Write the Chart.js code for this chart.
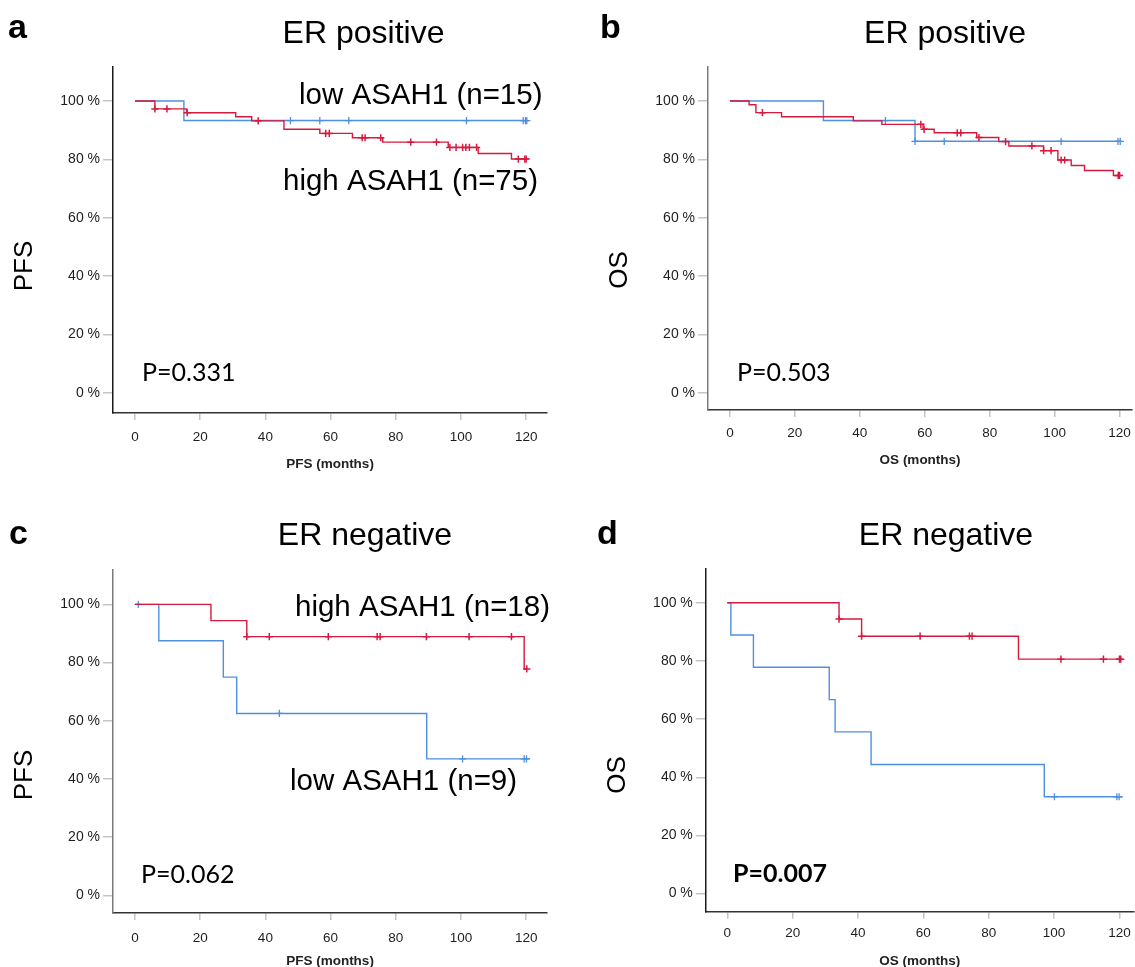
<!DOCTYPE html>
<html><head><meta charset="utf-8">
<script src="https://cdn.jsdelivr.net/npm/chart.js@4.4.1/dist/chart.umd.min.js"></script>
<style>
html,body{margin:0;padding:0;background:#fff;overflow:hidden;width:1135px;height:967px;position:relative;}
canvas{position:absolute;}
</style></head><body>
<canvas id="pa" width="567" height="483" style="left:0px;top:0px"></canvas>
<canvas id="pb" width="572" height="483" style="left:567px;top:0px"></canvas>
<canvas id="pc" width="567" height="495" style="left:0px;top:483px"></canvas>
<canvas id="pd" width="572" height="495" style="left:567px;top:483px"></canvas>
<script>
// ---------- data ----------
const xTicks = [0, 20, 40, 60, 80, 100, 120];
const yTicks = [0, 20, 40, 60, 80, 100];

// a: PFS, ER positive
const aHighTimes = [0, 6.1, 15.8, 30.9, 35.8, 45.7, 56.7, 66.7, 76.0, 96.1, 105.3, 115.5, 120.0];
const aHighSurv  = [100, 97.3, 96.0, 94.6, 93.2, 90.3, 88.9, 87.4, 85.9, 84.1, 82.0, 80.1, 80.1];
const aHighCens  = [6.1, 9.8, 16.0, 37.8, 58.5, 59.6, 69.7, 70.6, 75.4, 84.6, 92.5, 96.6, 98.5, 100.5, 101.5, 102.6, 104.8, 117.6, 119.6, 120.0];
const aLowTimes  = [0, 15.0, 120.5];
const aLowSurv   = [100, 93.3, 93.3];
const aLowCens   = [47.7, 56.7, 65.6, 101.7, 119.1, 119.8, 120.2];

// b: OS, ER positive
const bHighTimes = [0, 5.9, 8.0, 15.9, 38.0, 46.8, 59.5, 62.9, 76.0, 82.8, 85.9, 96.6, 101.0, 105.1, 109.2, 118.1, 120.0];
const bHighSurv  = [100, 98.7, 96.0, 94.6, 93.2, 92.0, 90.3, 89.1, 87.5, 86.1, 84.6, 83.0, 79.8, 77.9, 76.2, 74.5, 74.5];
const bHighCens  = [10.0, 58.8, 59.8, 70.0, 71.1, 76.7, 84.9, 93.0, 96.6, 98.9, 102.0, 103.1, 119.6, 120.0];
const bLowTimes  = [0, 28.8, 57.0, 120.5];
const bLowSurv   = [100, 93.3, 86.2, 86.2];
const bLowCens   = [47.9, 57.0, 66.0, 102.0, 119.5, 120.2];

// c: PFS, ER negative
const cHighTimes = [0, 23.3, 34.3, 119.4, 120.2];
const cHighSurv  = [100, 94.4, 88.9, 77.8, 77.8];
const cHighCens  = [34.3, 41.2, 59.3, 74.3, 75.2, 89.4, 102.5, 115.5, 120.2];
const cLowTimes  = [0, 7.3, 27.1, 31.2, 89.5, 121.0];
const cLowSurv   = [100, 87.5, 75.0, 62.5, 46.9, 46.9];
const cLowCens   = [1.0, 44.3, 100.5, 119.4, 120.1];

// d: OS, ER negative
const dHighTimes = [0, 34.2, 41.1, 89.1, 120.4];
const dHighSurv  = [100, 94.4, 88.5, 80.6, 80.6];
const dHighCens  = [34.2, 41.1, 59.0, 74.1, 74.9, 102.1, 115.1, 120.0, 120.4];
const dLowTimes  = [0, 1.1, 8.0, 31.2, 33.0, 44.0, 97.0, 120.7];
const dLowSurv   = [100, 88.9, 77.8, 66.7, 55.6, 44.4, 33.3, 33.3];
const dLowCens   = [100.1, 119.2, 119.9];

// text
const panelLetters = ['a', 'b', 'c', 'd'];
const panelTitles = ['ER positive', 'ER positive', 'ER negative', 'ER negative'];
const yTitles = ['PFS', 'OS', 'PFS', 'OS'];
const xTitles = ['PFS (months)', 'OS (months)', 'PFS (months)', 'OS (months)'];
const pValues = ['P=0.331', 'P=0.503', 'P=0.062', 'P=0.007'];
const highLabels = ['high ASAH1 (n=75)', 'high ASAH1', 'high ASAH1 (n=18)', 'high ASAH1'];
const lowLabels = ['low ASAH1 (n=15)', 'low ASAH1', 'low ASAH1 (n=9)', 'low ASAH1'];

// ---------- helpers ----------
function curve(times, surv) { return times.map((t, i) => ({ x: t, y: surv[i] })); }
function survAt(times, surv, t) {
  let v = surv[0];
  for (let i = 0; i < times.length; i++) if (times[i] <= t + 1e-9) v = surv[i];
  return v;
}
function censors(times, surv, cens) { return cens.map(t => ({ x: t, y: survAt(times, surv, t) })); }

const RED = '#d6193f', BLUE = '#4f8fe0';
const SANS = "'Liberation Sans', Arial, Helvetica, sans-serif";
const PFONT = "Lato, 'Open Sans', sans-serif";

const textPlugin = {
  id: 'panelText',
  afterDraw(chart, args, opts) {
    const ctx = chart.ctx;
    (opts.items || []).forEach(it => {
      ctx.save();
      ctx.font = it.font;
      ctx.fillStyle = it.color || '#000';
      ctx.textAlign = it.align || 'left';
      ctx.textBaseline = it.baseline || 'alphabetic';
      ctx.translate(it.x, it.y);
      if (it.rot) ctx.rotate(it.rot);
      ctx.fillText(it.text, 0, 0);
      ctx.restore();
    });
  }
};

// ---------- layout (page coordinates) ----------
const layout = [
  { id: 'pa', ox: 0, oy: 0, w: 567, h: 483, yW: 113, pad: { left: 0, top: 67, right: 20, bottom: 11 }, xH: 59, xPad: 9,
    xMin: -6.75, xMax: 126.4, yMin: -6.96, yMax: 111.66, yBorder: '#1a1a1a',
    letter: [8, 38], title: [363.5, 43], high: [283, 190], low: [299, 104], p: [142, 381], pBold: false, yT: [25, 266] },
  { id: 'pb', ox: 567, oy: 0, w: 572, h: 483, yW: 141, pad: { left: 0, top: 67, right: 5, bottom: 15 }, xH: 58, xPad: 8,
    xMin: -6.75, xMax: 123.9, yMin: -5.82, yMax: 111.64, yBorder: '#7a7a7a',
    letter: [600, 38], title: [945, 43], high: null, low: null, p: [737, 381], pBold: false, yT: [620, 270] },
  { id: 'pc', ox: 0, oy: 483, w: 567, h: 495, yW: 113, pad: { left: 0, top: 87, right: 20, bottom: 9 }, xH: 56, xPad: 10,
    xMin: -6.75, xMax: 126.4, yMin: -6.08, yMax: 111.8, yBorder: '#7a7a7a',
    letter: [9, 544], title: [365, 545], high: [295, 616], low: [290, 790], p: [141, 883], pBold: false, yT: [25, 775] },
  { id: 'pd', ox: 567, oy: 483, w: 572, h: 495, yW: 138.8, pad: { left: 0, top: 86, right: 5, bottom: 9 }, xH: 57.3, xPad: 6,
    xMin: -6.57, xMax: 124.3, yMin: -6.22, yMax: 111.6, yBorder: '#1a1a1a',
    letter: [597, 544], title: [946, 545], high: null, low: null, p: [733, 882], pBold: true, yT: [618, 775] }
];

const series = [
  [aHighTimes, aHighSurv, aHighCens, aLowTimes, aLowSurv, aLowCens],
  [bHighTimes, bHighSurv, bHighCens, bLowTimes, bLowSurv, bLowCens],
  [cHighTimes, cHighSurv, cHighCens, cLowTimes, cLowSurv, cLowCens],
  [dHighTimes, dHighSurv, dHighCens, dLowTimes, dLowSurv, dLowCens]
];

layout.forEach((L, k) => {
  const [hT, hS, hC, lT, lS, lC] = series[k];
  const items = [];
  const add = (text, pos, font, extra) => { if (pos) items.push(Object.assign({ text, x: pos[0] - L.ox, y: pos[1] - L.oy, font }, extra || {})); };
  add(panelLetters[k], L.letter, 'bold 34px ' + SANS);
  add(panelTitles[k], L.title, '32px ' + SANS, { align: 'center' });
  add(highLabels[k], L.high, '29.5px ' + SANS);
  add(lowLabels[k], L.low, '29.5px ' + SANS);
  add(pValues[k], L.p, (L.pBold ? 'bold ' : '') + '25px ' + PFONT);
  add(yTitles[k], L.yT, '26px ' + SANS, { align: 'center', baseline: 'middle', rot: -Math.PI / 2 });

  new Chart(document.getElementById(L.id), {
    type: 'line',
    data: {
      datasets: [
        { label: highLabels[k] + ' censored', data: censors(hT, hS, hC), showLine: false, pointStyle: 'cross',
          pointRadius: 3.6, pointBorderWidth: 1.5, pointBorderColor: RED, borderColor: RED },
        { label: highLabels[k], data: curve(hT, hS), stepped: 'before', borderColor: RED, borderWidth: 1.4, pointRadius: 0, fill: false },
        { label: lowLabels[k] + ' censored', data: censors(lT, lS, lC), showLine: false, pointStyle: 'cross',
          pointRadius: 3.6, pointBorderWidth: 1.3, pointBorderColor: BLUE, borderColor: BLUE },
        { label: lowLabels[k], data: curve(lT, lS), stepped: 'before', borderColor: BLUE, borderWidth: 1.4, pointRadius: 0, fill: false }
      ]
    },
    options: {
      responsive: false,
      animation: false,
      events: [],
      layout: { padding: L.pad },
      plugins: { legend: { display: false }, tooltip: { enabled: false }, panelText: { items } },
      scales: {
        x: {
          type: 'linear', min: L.xMin, max: L.xMax,
          afterBuildTicks: s => { s.ticks = xTicks.map(v => ({ value: v })); },
          afterFit: s => { s.height = L.xH; },
          ticks: { callback: v => String(v), font: { family: SANS, size: 13.5 }, color: '#1e1e1e', padding: L.xPad, maxRotation: 0, autoSkip: false },
          grid: { drawOnChartArea: false, drawTicks: true, tickLength: 7, color: '#c4c4c4', lineWidth: 1.5 },
          border: { display: true, color: '#333', width: 1.5 },
          title: { display: true, text: xTitles[k], font: { family: SANS, size: 13.5, weight: 'bold' }, color: '#222', padding: { top: 0, bottom: 0 } }
        },
        y: {
          type: 'linear', min: L.yMin, max: L.yMax,
          afterBuildTicks: s => { s.ticks = yTicks.map(v => ({ value: v })); },
          afterFit: s => { s.width = L.yW; },
          ticks: { callback: v => v + ' %', font: { family: SANS, size: 14 }, color: '#1e1e1e', padding: 3, autoSkip: false },
          grid: { drawOnChartArea: false, drawTicks: true, tickLength: 10, color: '#c4c4c4', lineWidth: 1.5 },
          border: { display: true, color: L.yBorder, width: 1.5 }
        }
      }
    },
    plugins: [textPlugin]
  });
});
</script>
</body></html>
